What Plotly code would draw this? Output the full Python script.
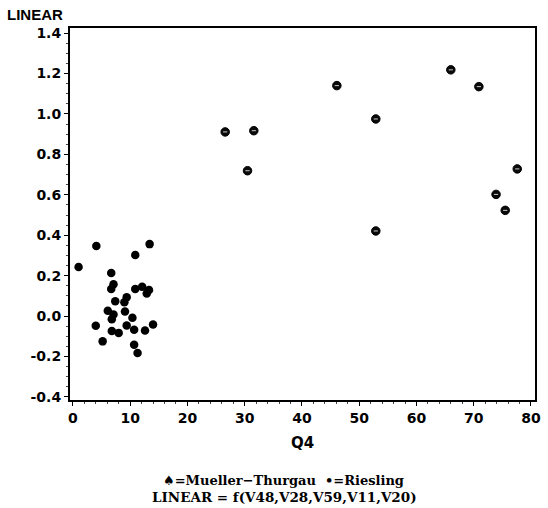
import plotly.graph_objects as go

# Mueller-Thurgau
mt_q4 = [26.6, 31.6, 30.5, 46.1, 52.9, 52.9, 66.0, 70.9, 77.6, 73.9, 75.5]
mt_lin = [0.911, 0.917, 0.719, 1.140, 0.975, 0.421, 1.218, 1.135, 0.728, 0.602, 0.523]

# Riesling
r_q4 = [1.0, 4.1, 13.4, 10.9, 6.7, 7.1, 6.7, 7.4, 9.4, 9.0, 10.9, 12.1, 13.3, 12.9,
        6.1, 7.1, 6.8, 9.1, 10.4, 4.0, 9.4, 10.7, 12.6, 14.0, 6.8, 8.0, 5.2, 10.7, 11.3]
r_lin = [0.243, 0.347, 0.356, 0.302, 0.213, 0.157, 0.134, 0.074, 0.093, 0.068, 0.134,
         0.145, 0.129, 0.112, 0.026, 0.008, -0.015, 0.023, -0.008, -0.048, -0.046,
         -0.068, -0.071, -0.041, -0.074, -0.083, -0.125, -0.142, -0.183]

x_ticks = [0, 10, 20, 30, 40, 50, 60, 70, 80]
y_ticks = [-0.4, -0.2, 0.0, 0.2, 0.4, 0.6, 0.8, 1.0, 1.2, 1.4]

fig = go.Figure()
fig.add_trace(go.Scatter(
    x=mt_q4, y=mt_lin, mode="markers", name="Mueller-Thurgau",
    marker=dict(symbol="circle", size=8.5, color="#0a0a0a",
                line=dict(color="#000", width=1))))
fig.add_trace(go.Scatter(
    x=mt_q4, y=mt_lin, mode="markers", name="Mueller-Thurgau mark",
    hoverinfo="skip",
    marker=dict(symbol="line-ew", size=3, color="white",
                line=dict(color="#cccccc", width=1))))
fig.add_trace(go.Scatter(
    x=r_q4, y=r_lin, mode="markers", name="Riesling",
    marker=dict(symbol="circle", size=8.5, color="#000")))

tickfont = dict(family="DejaVu Sans", size=14, color="#000")
fig.update_layout(
    width=548, height=508,
    margin=dict(l=70, r=7, t=28, b=108),
    paper_bgcolor="white", plot_bgcolor="white",
    showlegend=False,
    font=dict(family="DejaVu Sans", color="#000"),
    xaxis=dict(range=[-0.5, 80.7], tickvals=x_ticks,
               ticktext=[f"<b>{v}</b>" for v in x_ticks],
               showgrid=False, zeroline=False, showline=True, linecolor="#000",
               linewidth=2, mirror=True, ticks="outside", ticklen=4,
               tickcolor="#000", tickfont=tickfont,
               minor=dict(dtick=2, ticks="outside", ticklen=2, tickcolor="#444"),
               title=dict(text="<b>Q4</b>", font=dict(size=15, family="DejaVu Sans"),
                          standoff=13)),
    yaxis=dict(range=[-0.415, 1.425], tickvals=y_ticks,
               ticktext=[f"<b>{v:.1f}</b>" for v in y_ticks],
               showgrid=False, zeroline=False, showline=True, linecolor="#000",
               linewidth=2, mirror=True, ticks="outside", ticklen=4,
               tickcolor="#000", tickfont=tickfont,
               minor=dict(dtick=0.05, ticks="outside", ticklen=2, tickcolor="#444")),
    annotations=[
        dict(text="<b>LINEAR</b>", x=-66/471, y=1 + 14/372, xref="paper", yref="paper",
             showarrow=False, xanchor="left", yanchor="middle",
             font=dict(family="Liberation Sans", size=15)),
        dict(text="<b>♠=Mueller−Thurgau  •=Riesling</b>", x=(286 - 70)/471, y=-80/372,
             xref="paper", yref="paper", showarrow=False, xanchor="center",
             yanchor="middle", font=dict(family="DejaVu Serif", size=13)),
        dict(text="<b>LINEAR = f(V48,V28,V59,V11,V20)</b>", x=(287 - 70)/471, y=-97/372,
             xref="paper", yref="paper", showarrow=False, xanchor="center",
             yanchor="middle", font=dict(family="DejaVu Serif", size=13.5)),
    ],
)
fig.write_html("out.html")
